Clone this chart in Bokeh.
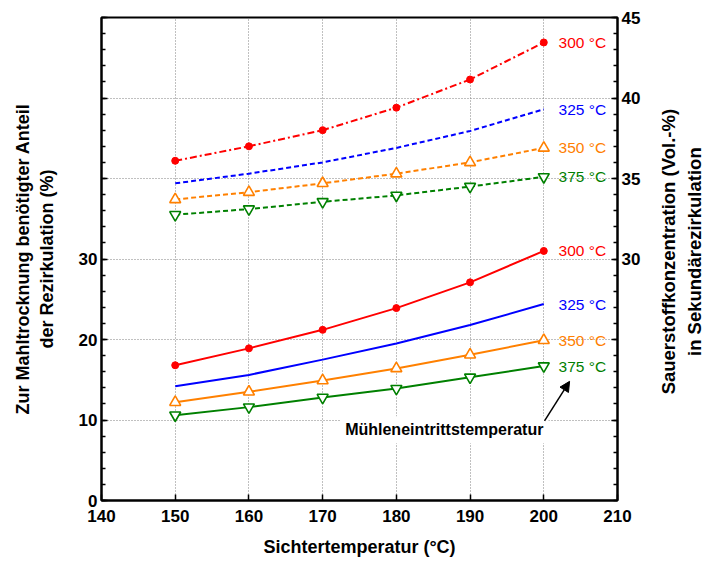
import math
from bokeh.plotting import figure
from bokeh.layouts import row
from bokeh.models import Range1d, LinearAxis, FixedTicker, Label, Arrow, NormalHead
from bokeh.core.properties import value
from bokeh.embed import file_html
from bokeh.resources import INLINE

# ---- data ----
sichter_temp = [150, 160, 170, 180, 190, 200]
mill_labels = ["300 °C", "325 °C", "350 °C", "375 °C"]
recirc_300 = [16.8, 18.9, 21.2, 23.9, 27.1, 31.0]
recirc_325 = [14.2, 15.6, 17.5, 19.5, 21.8, 24.4]
recirc_350 = [12.2, 13.5, 14.9, 16.4, 18.1, 19.9]
recirc_375 = [10.6, 11.6, 12.8, 13.9, 15.3, 16.7]
o2_300 = [36.1, 37.0, 38.0, 39.4, 41.15, 43.45]
o2_325 = [34.7, 35.3, 36.0, 36.9, 37.95, 39.3]
o2_350 = [33.7, 34.15, 34.7, 35.3, 36.0, 36.9]
o2_375 = [32.75, 33.1, 33.55, 33.95, 34.5, 35.1]
x_ticks = [140, 150, 160, 170, 180, 190, 200, 210]
left_ticks = [0, 10, 20, 30, 40, 50, 60]
right_ticks = [20, 25, 30, 35, 40, 45]

FONT = "Liberation Sans"
colors = ["#ff0000", "#0000ff", "#ff8000", "#008000"]
markers = ["circle", None, "triangle", "inverted_triangle"]

H = 559
p = figure(width=647, height=H, x_range=Range1d(140, 210), y_range=Range1d(0, 60),
           output_backend="svg", toolbar_location=None,
           min_border_left=101, min_border_right=30, min_border_top=17, min_border_bottom=59)
p.extra_y_ranges = {"o2": Range1d(15, 45)}
p.background_fill_color = "white"
p.border_fill_color = "white"
p.outline_line_color = "black"
p.outline_line_width = 2

# x axis
p.xaxis.ticker = FixedTicker(ticks=x_ticks, minor_ticks=[])
p.xaxis.axis_label = "Sichtertemperatur (°C)"
# left axis
p.yaxis.ticker = FixedTicker(ticks=left_ticks, minor_ticks=list(range(0, 61, 2)))
p.yaxis.major_label_overrides = {40: "", 50: "", 60: ""}
p.yaxis.axis_label = "Zur Mahltrocknung benötigter Anteil\nder Rezirkulation (%)"

# right axis
raxis = LinearAxis(y_range_name="o2",
                   ticker=FixedTicker(ticks=right_ticks, minor_ticks=list(range(15, 46))),
                   major_label_overrides={20: "", 25: ""})
p.add_layout(raxis, "right")

for ax in [p.xaxis[0], p.yaxis[0], raxis]:
    ax.axis_line_color = "black"
    ax.axis_line_width = 2
    ax.major_tick_in = 6
    ax.major_tick_out = 0
    ax.minor_tick_in = 4
    ax.minor_tick_out = 0
    ax.major_tick_line_color = "black"
    ax.minor_tick_line_color = "black"
    ax.major_tick_line_width = 1.5
    ax.minor_tick_line_width = 1.5
    ax.major_label_text_font = FONT
    ax.major_label_text_font_size = "17px"
    ax.major_label_text_font_style = "bold"
    ax.major_label_text_color = "black"
    ax.axis_label_text_font = FONT
    ax.axis_label_text_font_size = "18px"
    ax.axis_label_text_font_style = "bold"
    ax.axis_label_text_color = "black"
    ax.major_label_standoff = 4

p.xaxis.major_label_standoff = 9
p.xaxis.axis_label_standoff = 12
p.yaxis.axis_label_standoff = 19

for g in [p.xgrid[0], p.ygrid[0]]:
    g.grid_line_color = "#808080"
    g.grid_line_dash = "1 2"
    g.grid_line_width = 1

lower = [recirc_300, recirc_325, recirc_350, recirc_375]
upper = [o2_300, o2_325, o2_350, o2_375]
dashes = ["7 3 2 3", "5 3", "5 3", "5 3"]

for i in range(4):
    c = colors[i]
    p.line(sichter_temp, lower[i], line_color=c, line_width=2)
    p.line(sichter_temp, upper[i], line_color=c, line_width=2, line_dash=dashes[i], y_range_name="o2")
    m = markers[i]
    for ys, rn in [(lower[i], "default"), (upper[i], "o2")]:
        if m == "circle":
            p.scatter(sichter_temp, ys, marker="circle", size=7, fill_color=c, line_color=c, y_range_name=rn)
        elif m is not None:
            p.scatter(sichter_temp, ys, marker=m, size=11, fill_color="white", line_color=c,
                      line_width=1.6, y_range_name=rn)
    lx = sichter_temp[-1] + 2
    p.text(x=[lx], y=[lower[i][-1]], text=[mill_labels[i]], text_color=c,
           text_font=value(FONT), text_font_size="15.5px", text_align="left", text_baseline="middle")
    p.text(x=[lx], y=[upper[i][-1]], text=[mill_labels[i]], text_color=c,
           text_font=value(FONT), text_font_size="15.5px", text_align="left", text_baseline="middle",
           y_range_name="o2")

note = Label(x=186.5, y=8.8, text="Mühleneintrittstemperatur", text_align="center",
             text_baseline="middle", text_font=FONT, text_font_size="16px",
             text_font_style="bold", text_color="black", background_fill_color="white")
try:
    note.padding = 5
except Exception:
    pass
p.add_layout(note)

p.add_layout(Arrow(end=NormalHead(size=10, fill_color="black", line_color="black"),
                   x_start=200.1, y_start=9.9, x_end=203.5, y_end=14.8,
                   line_color="black", line_width=1.5))

# right-hand axis title, in its own narrow panel so it is not clipped
W2 = 704 - 647
p2 = figure(width=W2, height=H, x_range=Range1d(0, W2), y_range=Range1d(0, H),
            output_backend="svg", toolbar_location=None,
            x_axis_location=None, y_axis_location=None, min_border=0)
p2.grid.visible = False
p2.outline_line_color = None
p2.background_fill_color = "white"
p2.border_fill_color = "white"
p2.add_layout(Label(x=34, y=H - 271,
                    text="Sauerstoffkonzentration (Vol.-%)\nin Sekundärezirkulation",
                    angle=90, angle_units="deg", text_align="center", text_baseline="middle",
                    text_font=FONT, text_font_size="18.5px", text_font_style="bold",
                    text_color="black"))

layout = row(p, p2, spacing=0)
open("out.html", "w").write(file_html(layout, INLINE))
